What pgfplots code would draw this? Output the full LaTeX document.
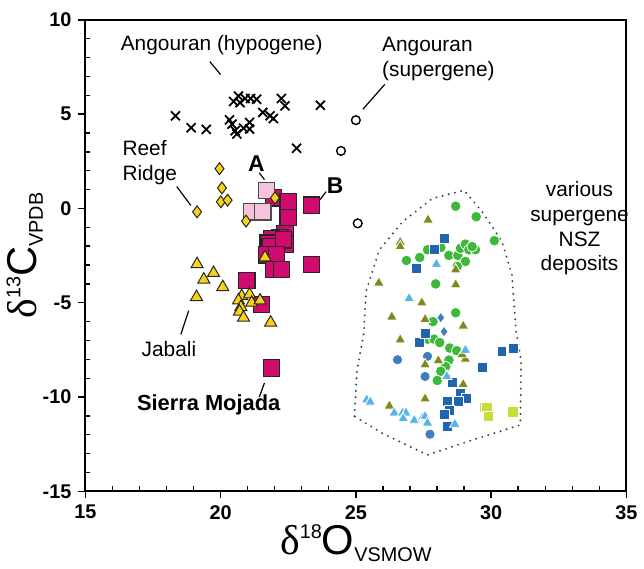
\documentclass[border=0pt]{standalone}
\usepackage{fontspec}
\setmainfont{Liberation Sans}
\newfontfamily\grk{Liberation Serif}
\usepackage{pgfplots}
\pgfplotsset{compat=1.18}

\definecolor{smoj}{HTML}{D10B6E}
\definecolor{smojA}{HTML}{F6C3DC}
\definecolor{gold}{HTML}{F7D317}
\definecolor{nszgreen}{HTML}{3DB83A}
\definecolor{nszblue}{HTML}{1F65AF}
\definecolor{nszolive}{HTML}{7D8A17}
\definecolor{nszsky}{HTML}{58B5E5}
\definecolor{nszlime}{HTML}{CBDB3A}

\begin{document}
\begin{tikzpicture}
\begin{axis}[
    scale only axis,
    width=272.5pt, height=237.5pt,
    xmin=15, xmax=35, ymin=-15, ymax=10,
    xtick={15,20,...,35}, ytick={-15,-10,...,10},
    minor x tick num=4, minor y tick num=4,
    xtick pos=left, ytick pos=left,
    tick align=outside,
    major tick length=3.5pt, minor tick length=-2.5pt,
    axis line style={line width=0.9pt},
    every tick/.style={black, line width=0.7pt},
    /pgf/number format/assume math mode=true,
    ticklabel style={font=\bfseries\fontsize{10}{12}\selectfont},
    xlabel={\fontsize{21}{24}\selectfont{\grk δ}\raisebox{0.72ex}{\fontsize{10}{12}\selectfont 18}O\raisebox{-0.3ex}{\fontsize{10}{12}\selectfont VSMOW}},
    ylabel={\fontsize{21}{24}\selectfont{\grk δ}\raisebox{0.72ex}{\fontsize{10}{12}\selectfont 13}C\raisebox{-0.3ex}{\fontsize{10}{12}\selectfont VPDB}},
    xlabel style={yshift=4pt},
    ylabel style={yshift=-7pt},
    clip=false,
]
% NSZ envelope
\addplot[black!75, line width=1.1pt, line cap=round, dash pattern=on 0pt off 3.2pt] coordinates {
    (24.95,-11.02) (25.04,-8.59) (25.29,-6.67) (25.38,-4.38) (25.87,-2.19)
    (26.73,-0.70) (27.83,0.53) (29.00,0.96) (29.67,-0.17) (30.40,-1.75)
    (30.77,-3.51) (30.92,-6.47) (31.11,-8.07) (31.08,-11.48) (29.30,-12.28)
    (27.65,-13.07) (25.99,-11.93) (24.95,-11.02)
};

% Angouran hypogene
\addplot[only marks, mark=x, mark size=3.2pt, black, line width=0.9pt] coordinates {
    (18.33,4.91) (18.91,4.28) (19.47,4.19) (20.48,5.67) (20.66,5.96) (20.91,5.83)
    (21.11,5.83) (21.33,5.79) (22.25,5.83) (22.38,5.44) (21.56,5.09) (21.95,4.77)
    (20.33,4.70) (20.54,4.12) (20.60,3.95) (20.85,4.25) (21.07,4.56) (21.07,4.21)
    (21.83,4.91) (23.69,5.47) (22.81,3.19) (20.42,4.47) (20.72,5.61)
};
% Angouran supergene
\addplot[only marks, mark=o, mark size=2.2pt, black, line width=0.7pt] coordinates {
    (25.00,4.68) (24.45,3.05) (25.07,-0.79)
};

% Sierra Mojada
\addplot[only marks, mark=square*, mark size=4.1pt, mark options={fill=smoj, draw=black!85, line width=0.6pt}] coordinates {
    (21.95,0.56) (22.50,0.35) (23.36,0.18) (22.50,-0.49) (22.38,-1.32) (22.19,-1.54)
    (21.89,-1.58) (21.76,-1.84) (22.01,-2.02) (22.38,-1.89) (21.83,-2.02) (22.32,-1.67)
    (21.70,-2.46) (22.07,-2.46) (21.95,-3.25) (22.25,-3.25) (23.36,-2.98) (20.97,-3.82)
    (21.52,-5.09) (21.89,-8.46)
};
\addplot[only marks, mark=square*, mark size=4.1pt, mark options={fill=smojA, draw=black!70, line width=0.6pt}] coordinates {
    (21.70,0.96) (21.15,-0.18) (21.56,-0.18)
};
% Reef Ridge
\addplot[only marks, mark=diamond*, mark size=3pt, mark options={fill=gold, draw=black!85, line width=0.5pt}] coordinates {
    (19.96,2.11) (20.05,1.09) (20.01,0.35) (20.26,0.44) (19.13,-0.18) (20.94,-0.67) (22.01,0.56)
};
% Jabali
\addplot[only marks, mark=triangle*, mark size=3.5pt, mark options={fill=gold, draw=black!85, line width=0.5pt}] coordinates {
    (19.13,-2.95) (19.38,-3.77) (19.74,-3.42) (20.08,-4.17) (19.11,-4.70) (20.78,-4.65)
    (21.07,-4.56) (20.66,-4.88) (21.15,-5.00) (21.46,-4.88) (20.75,-5.23) (20.70,-5.47)
    (20.85,-5.79) (21.64,-2.59) (21.85,-6.05)
};

% NSZ deposits
\addplot[only marks, mark=*, mark size=2.7pt, mark options={fill=nszgreen, draw=white, line width=0.4pt}] coordinates {
    (28.69,0.12) (29.45,-0.44) (30.12,-1.71) (27.65,-2.19) (28.14,-2.07) (27.36,-2.60)
    (26.87,-2.76) (28.44,-2.49) (28.77,-2.49) (28.87,-2.11) (29.05,-1.89) (29.18,-2.19)
    (29.42,-2.19) (29.30,-2.02) (29.05,-2.81) (28.75,-3.07) (27.95,-4.00) (28.69,-5.53)
    (27.85,-6.00) (27.65,-6.93) (27.89,-6.93) (28.10,-7.11) (28.47,-7.40) (28.73,-7.54)
    (28.44,-8.04) (28.32,-8.39) (28.14,-8.63) (28.01,-9.12)
};
\addplot[only marks, mark=square*, mark size=2.5pt, mark options={fill=nszblue, draw=white, line width=0.4pt}] coordinates {
    (28.26,-1.58) (27.89,-2.19) (27.25,-3.19) (27.56,-6.58) (27.34,-7.11) (27.56,-6.63)
    (30.40,-7.60) (30.81,-7.42) (29.69,-8.42) (28.57,-9.21) (28.87,-9.79) (29.08,-10.09)
    (28.79,-10.21) (28.38,-10.21) (28.47,-10.70) (28.26,-10.91) (28.38,-11.54)
};
\addplot[only marks, mark=*, mark size=2.6pt, mark options={fill=nszblue!85, draw=white, line width=0.4pt}] coordinates {
    (26.54,-8.02) (27.65,-7.84) (27.56,-8.91) (27.74,-11.97)
};
\addplot[only marks, mark=diamond*, mark size=2.7pt, mark options={fill=nszblue!85, draw=white, line width=0.4pt}] coordinates {
    (28.14,-5.79) (28.26,-6.49) (28.26,-6.53) (28.38,-8.86)
};
\addplot[only marks, mark=triangle*, mark size=3.1pt, mark options={fill=nszolive, draw=white, line width=0.4pt}] coordinates {
    (27.67,-0.61) (26.64,-1.79) (26.64,-2.02) (28.69,-3.25) (25.85,-3.95) (28.69,-4.04)
    (27.44,-5.00) (26.33,-5.75) (27.56,-5.88) (28.97,-6.23) (26.64,-6.96) (28.05,-8.07)
    (27.56,-8.28) (29.05,-7.98) (28.93,-7.75) (28.97,-9.33) (27.56,-10.09) (26.24,-10.47)
};
\addplot[only marks, mark=triangle*, mark size=3.1pt, mark options={fill=nszsky, draw=white, line width=0.4pt}] coordinates {
    (27.98,-2.95) (26.97,-4.77) (29.05,-7.51) (25.40,-10.14) (25.53,-10.26) (26.42,-10.84)
    (26.73,-10.84) (26.85,-10.84) (26.75,-11.14) (27.16,-11.23) (27.46,-11.09) (27.56,-11.02)
    (27.65,-11.37) (28.66,-11.44) (28.36,-8.91)
};
\addplot[only marks, mark=square*, mark size=2.6pt, mark options={fill=nszlime, draw=white, line width=0.4pt}] coordinates {
    (29.76,-10.53) (29.85,-10.53) (29.89,-11.02) (30.81,-10.79)
};

% annotations
\tikzset{ann/.style={font=\fontsize{10.5}{12.5}\selectfont, inner sep=0pt}}
\node[ann] at (axis cs:20.04,8.68) {Angouran (hypogene)};
\draw[line width=0.6pt] (axis cs:19.60,7.79) -- (axis cs:20.00,7.10);
\node[ann, align=left, anchor=west] at (axis cs:25.96,7.92) {Angouran\\(supergene)};
\draw[line width=0.6pt] (axis cs:26.07,6.58) -- (axis cs:25.26,5.26);
\node[ann, align=left, anchor=west] at (axis cs:16.36,2.42) {Reef\\Ridge};
\draw[line width=0.6pt] (axis cs:18.38,1.16) -- (axis cs:18.90,0.16);
\node[ann, font=\bfseries\fontsize{11.5}{13}\selectfont] at (axis cs:21.32,2.37) {A};
\draw[line width=0.6pt] (axis cs:21.43,1.89) -- (axis cs:21.62,1.53);
\node[ann, font=\bfseries\fontsize{11.5}{13}\selectfont] at (axis cs:24.23,1.21) {B};
\draw[line width=0.6pt] (axis cs:23.90,0.89) -- (axis cs:23.68,0.47);
\node[ann] at (axis cs:18.09,-7.47) {Jabali};
\draw[line width=0.6pt] (axis cs:18.82,-5.42) -- (axis cs:18.53,-6.68);
\node[ann, font=\bfseries\fontsize{11}{13}\selectfont] at (axis cs:19.56,-10.42) {Sierra Mojada};
\draw[line width=0.6pt] (axis cs:21.62,-9.26) -- (axis cs:21.43,-10.00);
\node[ann, align=center, font=\fontsize{10.5}{12.5}\selectfont] at (axis cs:33.27,-1.05) {various\\supergene\\NSZ\\deposits};
\end{axis}
% extra room above the plot, as in the original
\path ([yshift=10pt]current axis.north west);
\end{tikzpicture}
\end{document}
